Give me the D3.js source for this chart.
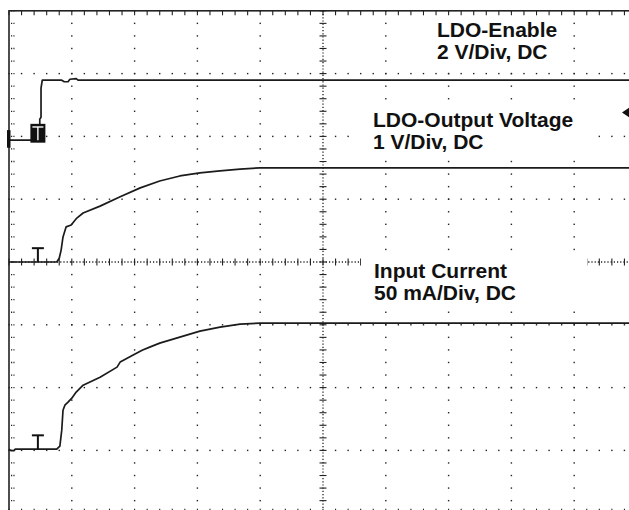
<!DOCTYPE html>
<html>
<head>
<meta charset="utf-8">
<script src="https://d3js.org/d3.v7.min.js"></script>
<style>
    html, body { margin:0; padding:0; background:#fff; overflow:hidden; }
    svg { display:block; background:#fff; }
    .label text {
        font-family: "Liberation Sans", Arial, sans-serif;
        font-weight: bold;
        font-size: 21px;
        fill: #111;
    }
    .trace {
        fill: none;
        stroke: #1b1b1b;
        stroke-width: 1.7px;
        stroke-linejoin: round;
    }
</style>
</head>
<body>
<div id="scope"></div>
<script>
// screen: 10 x 8 divisions, 5 minor steps per division
var divsX = 10, divsY = 8, minorPerDiv = 5;

// LDO-Enable, 2 V/Div (time in divisions)
var enableTime  = [0, 0.46, 0.49, 0.49, 0.51, 0.51, 0.53, 0.84, 0.88, 0.94, 0.97, 1.07, 1.10, 10];
var enableVolts = [0, 0, 0.06, 0.67, 0.73, 1.66, 1.91, 1.91, 1.86, 1.86, 1.94, 1.96, 1.91, 1.91];

// LDO-Output Voltage, 1 V/Div
var outputTime  = [0, 0.76, 0.80, 0.83, 0.86, 0.91, 0.99, 1.08, 1.18, 1.45, 1.77, 2.09, 2.40, 2.72, 3.04, 3.36, 3.68, 4.00, 10];
var outputVolts = [0, 0, 0.06, 0.19, 0.40, 0.56, 0.59, 0.70, 0.78, 0.89, 1.04, 1.18, 1.29, 1.37, 1.42, 1.45, 1.48, 1.50, 1.50];

// Input Current, 50 mA/Div
var currentTime = [0, 0.03, 0.08, 0.10, 0.76, 0.81, 0.84, 0.86, 0.89, 0.94, 1.00, 1.07, 1.18, 1.45, 1.72, 1.77, 1.97, 2.12, 2.24, 2.40, 2.72, 3.04, 3.36, 3.68, 4.00, 10];
var currentMilliamps = [0, -1.2, -1.2, 0, 0, 2.4, 15.1, 31.0, 35.0, 37.4, 40.6, 45.4, 50.9, 57.3, 65.3, 69.3, 74.8, 78.8, 81.2, 84.4, 89.2, 94.0, 97.2, 99.6, 100.3, 100.3];

// channel settings: units per division and ground position (divisions from centre)
var channels = [
    {name: "LDO-Enable",          scale: "2 V/Div, DC",   perDiv: 2,  zero: 1.94,  t: enableTime,  v: enableVolts},
    {name: "LDO-Output Voltage",  scale: "1 V/Div, DC",   perDiv: 1,  zero: 0,     t: outputTime,  v: outputVolts},
    {name: "Input Current",       scale: "50 mA/Div, DC", perDiv: 50, zero: -2.98, t: currentTime, v: currentMilliamps}
];

var width = 629, height = 510;

var x = d3.scaleLinear().domain([0, divsX]).range([9, 637]);
var y = d3.scaleLinear().domain([-divsY / 2, divsY / 2]).range([513.2, 10.8]);

var svg = d3.select("#scope").append("svg")
    .attr("width", width)
    .attr("height", height);

var minorX = d3.range(0, divsX * minorPerDiv + 1).map(function(i) { return i / minorPerDiv; });
var minorY = d3.range(-divsY / 2 * minorPerDiv, divsY / 2 * minorPerDiv + 1).map(function(i) { return i / minorPerDiv; });
var majorX = d3.range(1, divsX).filter(function(d) { return d !== divsX / 2; });
var majorY = d3.range(-divsY / 2 + 1, divsY / 2).filter(function(d) { return d !== 0; });

var grid = svg.append("g").attr("class", "grid").attr("fill", "#222");

// dotted major lines
majorX.forEach(function(gx) {
    grid.selectAll(null).data(minorY).enter().append("rect")
        .attr("x", x(gx) - 0.7).attr("y", function(d) { return y(d) - 0.7; })
        .attr("width", 1.4).attr("height", 1.4);
});
majorY.forEach(function(gy) {
    grid.selectAll(null).data(minorX).enter().append("rect")
        .attr("x", function(d) { return x(d) - 0.7; }).attr("y", y(gy) - 0.7)
        .attr("width", 1.4).attr("height", 1.4);
});

// centre axes: fine dots plus minor ticks
grid.append("line")
    .attr("x1", x(divsX / 2)).attr("x2", x(divsX / 2))
    .attr("y1", y(divsY / 2)).attr("y2", y(-divsY / 2))
    .attr("stroke", "#222").attr("stroke-width", 1.3).attr("stroke-dasharray", "1.2,2");
grid.append("line")
    .attr("x1", x(0)).attr("x2", x(divsX))
    .attr("y1", y(0)).attr("y2", y(0))
    .attr("stroke", "#222").attr("stroke-width", 1.3).attr("stroke-dasharray", "1.2,2");
grid.selectAll(".tick-y").data(minorY).enter().append("line")
    .attr("class", "tick-y")
    .attr("x1", x(divsX / 2) - 3.5).attr("x2", x(divsX / 2) + 3.5)
    .attr("y1", function(d) { return y(d); }).attr("y2", function(d) { return y(d); })
    .attr("stroke", "#222").attr("stroke-width", 1.1);
grid.selectAll(".tick-x").data(minorX).enter().append("line")
    .attr("class", "tick-x")
    .attr("x1", function(d) { return x(d); }).attr("x2", function(d) { return x(d); })
    .attr("y1", y(0) - 3.5).attr("y2", y(0) + 3.5)
    .attr("stroke", "#222").attr("stroke-width", 1.1);

// border and edge ticks
svg.append("rect")
    .attr("x", x(0)).attr("y", y(divsY / 2))
    .attr("width", x(divsX) - x(0)).attr("height", y(-divsY / 2) - y(divsY / 2))
    .attr("fill", "none").attr("stroke", "#222").attr("stroke-width", 1.6);
grid.selectAll(".edge-top").data(minorX).enter().append("line")
    .attr("x1", function(d) { return x(d); }).attr("x2", function(d) { return x(d); })
    .attr("y1", y(divsY / 2)).attr("y2", y(divsY / 2) + 4.5)
    .attr("stroke", "#222").attr("stroke-width", 1.1);
grid.selectAll(".edge-bottom").data(minorX).enter().append("line")
    .attr("x1", function(d) { return x(d); }).attr("x2", function(d) { return x(d); })
    .attr("y1", y(-divsY / 2)).attr("y2", y(-divsY / 2) - 4.5)
    .attr("stroke", "#222").attr("stroke-width", 1.1);
grid.selectAll(".edge-left").data(minorY).enter().append("line")
    .attr("x1", x(0) + 2).attr("x2", x(0) + 5.5)
    .attr("y1", function(d) { return y(d); }).attr("y2", function(d) { return y(d); })
    .attr("stroke", "#222").attr("stroke-width", 1.3).attr("stroke-dasharray", "1.2,1.2");

// traces
channels.forEach(function(ch) {
    var pts = ch.t.map(function(t, i) { return [t, ch.zero + ch.v[i] / ch.perDiv]; });
    svg.append("path")
        .datum(pts)
        .attr("class", "trace")
        .attr("d", d3.line()
            .x(function(d) { return x(d[0]); })
            .y(function(d) { return y(d[1]); }));
});

// channel ground markers
var markerT = 0.46, markerH = 0.22;
channels.slice(1).forEach(function(ch) {
    var g = svg.append("g").attr("stroke", "#111").attr("stroke-width", 2);
    g.append("line")
        .attr("x1", x(markerT)).attr("x2", x(markerT))
        .attr("y1", y(ch.zero)).attr("y2", y(ch.zero + markerH));
    g.append("line")
        .attr("x1", x(markerT) - 6).attr("x2", x(markerT) + 6)
        .attr("y1", y(ch.zero + markerH)).attr("y2", y(ch.zero + markerH));
});
// channel 1 marker (inverted box) and left ground bar
var c1 = channels[0];
svg.append("rect")
    .attr("x", x(markerT) - 7.5).attr("y", y(c1.zero + 0.26))
    .attr("width", 15).attr("height", y(c1.zero - 0.04) - y(c1.zero + 0.26))
    .attr("fill", "#111");
svg.append("line")
    .attr("x1", x(markerT) - 5.5).attr("x2", x(markerT) + 5.5)
    .attr("y1", y(c1.zero + 0.21)).attr("y2", y(c1.zero + 0.21))
    .attr("stroke", "#fff").attr("stroke-width", 1.4);
svg.append("line")
    .attr("x1", x(markerT)).attr("x2", x(markerT))
    .attr("y1", y(c1.zero + 0.21)).attr("y2", y(c1.zero))
    .attr("stroke", "#fff").attr("stroke-width", 1.4);
svg.append("rect")
    .attr("x", x(0) - 2).attr("y", y(c1.zero + 0.16))
    .attr("width", 3.5).attr("height", y(c1.zero - 0.12) - y(c1.zero + 0.16))
    .attr("fill", "#111");

// trigger level arrow on the right edge
var trigLevel = 2.38;
svg.append("path")
    .attr("d", "M" + (x(divsX) - 15) + "," + y(trigLevel) +
               "L" + (x(divsX) - 6) + "," + (y(trigLevel) - 6) +
               "L" + (x(divsX) - 6) + "," + (y(trigLevel) + 6) + "Z")
    .attr("fill", "#111");

// labels with white backing boxes
var labelBoxes = [
    {x: 425, y: 17,  w: 140, h: 51, tx: 437, ty: 37},
    {x: 357, y: 104, w: 238, h: 52, tx: 373, ty: 127},
    {x: 361, y: 254, w: 226, h: 54, tx: 374, ty: 278}
];
channels.forEach(function(ch, i) {
    var b = labelBoxes[i];
    var g = svg.append("g").attr("class", "label");
    g.append("rect")
        .attr("x", b.x).attr("y", b.y).attr("width", b.w).attr("height", b.h)
        .attr("fill", "#fff");
    g.append("text").attr("x", b.tx).attr("y", b.ty).text(ch.name);
    g.append("text").attr("x", b.tx).attr("y", b.ty + 22).text(ch.scale);
});
</script>
</body>
</html>
